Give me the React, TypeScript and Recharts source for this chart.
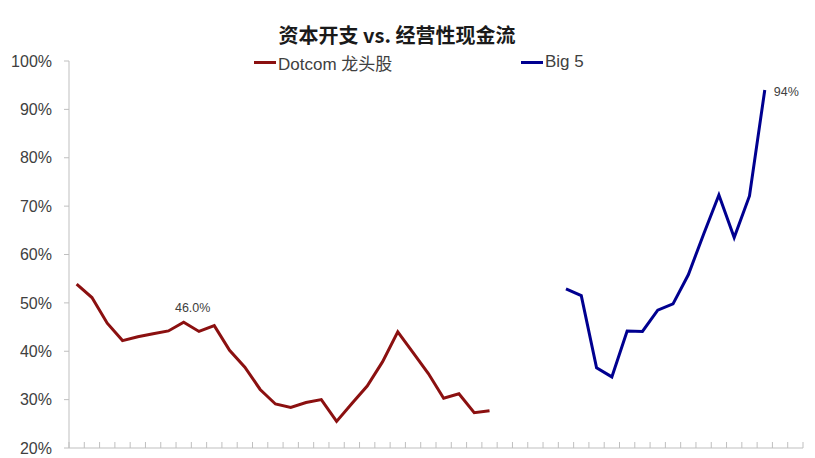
import React from 'react';
import { LineChart, Line, XAxis, YAxis, Legend, LabelList } from 'recharts';

// 48 slots on the x axis, tick marks sit on the slot boundaries
const SLOT_COUNT = 48;

const dotcomName = 'Dotcom 龙头股';
const dotcomStart = 0;
const dotcomValues = [
  53.9, 51.1, 45.8, 42.2, 43.0, 43.6, 44.2, 46.0, 44.1, 45.3, 40.2, 36.7, 32.1, 29.1,
  28.4, 29.4, 30.0, 25.5, 29.2, 32.8, 37.8, 44.0, 39.7, 35.4, 30.3, 31.2, 27.3, 27.7,
];
const dotcomLabelIndex = 7;

const big5Name = 'Big 5';
const big5Start = 32;
const big5Values = [52.9, 51.5, 36.6, 34.7, 44.2, 44.1, 48.5, 49.8, 55.8, 64.2, 72.3, 63.5, 72.1, 94.0];
const big5LabelIndex = 13;

const seriesOrder = [dotcomName, big5Name];
const yTicks = [20, 30, 40, 50, 60, 70, 80, 90, 100];
const xTicks = Array.from({ length: SLOT_COUNT + 1 }, (_, i) => i);

const AXIS = '#bfbfbf';
const TEXT = '#404040';
const FONT = '"Liberation Sans", Arial, "Noto Sans CJK SC", sans-serif';
const RED = '#8b1010';
const NAVY = '#000090';

const toRows = (start: number, values: number[]) =>
  values.map((v, i) => ({ slot: start + i + 0.5, v }));

const dotcomData = toRows(dotcomStart, dotcomValues);
const big5Data = toRows(big5Start, big5Values);

const UpTick = (props: any) => {
  const { x, y } = props;
  return <line x1={x} y1={y} x2={x} y2={y - 6} stroke={AXIS} strokeWidth={1} />;
};

const dotcomLabel = (props: any) => {
  const { x, y, value, index } = props;
  if (index !== dotcomLabelIndex) return null;
  return (
    <text x={x + 9} y={y - 10} textAnchor="middle" fontSize={12.5} fill={TEXT} fontFamily={FONT}>
      {Number(value).toFixed(1)}%
    </text>
  );
};

const big5Label = (props: any) => {
  const { x, y, value, index } = props;
  if (index !== big5LabelIndex) return null;
  return (
    <text x={x + 9} y={y + 6} textAnchor="start" fontSize={12.5} fill={TEXT} fontFamily={FONT}>
      {Math.round(Number(value))}%
    </text>
  );
};

const legendLefts = [254, 521];

const renderLegend = (props: any) => {
  const payload = [...(props.payload || [])].sort(
    (a: any, b: any) => seriesOrder.indexOf(a.value) - seriesOrder.indexOf(b.value)
  );
  return (
    <div style={{ position: 'relative', width: 815, height: 26 }}>
      {payload.map((entry: any, i: number) => (
        <div
          key={entry.value}
          style={{
            position: 'absolute',
            left: legendLefts[i],
            top: 0,
            display: 'flex',
            alignItems: 'center',
            height: 26,
            fontFamily: FONT,
            fontSize: 17,
            color: TEXT,
            whiteSpace: 'nowrap',
          }}
        >
          <span style={{ display: 'inline-block', width: 22, height: 3, background: entry.color, marginRight: 2 }} />
          {entry.value}
        </div>
      ))}
    </div>
  );
};

export default function App() {
  return (
    <div style={{ position: 'absolute', left: 0, top: 0, width: 815, height: 458, background: '#fff' }}>
      <div
        style={{
          position: 'absolute',
          left: 397,
          top: 22,
          transform: 'translateX(-50%)',
          fontFamily: '"Noto Sans CJK SC", sans-serif',
          fontWeight: 700,
          fontSize: 20,
          lineHeight: '26px',
          color: '#1a1a1a',
          whiteSpace: 'nowrap',
          zIndex: 2,
        }}
      >
        资本开支 vs. 经营性现金流
      </div>
      <LineChart width={815} height={458} margin={{ top: 61, right: 12, bottom: 0, left: 0 }}>
        <XAxis
          dataKey="slot"
          type="number"
          domain={[0, SLOT_COUNT]}
          ticks={xTicks}
          interval={0}
          allowDataOverflow
          height={10}
          tickLine={false}
          tickSize={0}
          tickMargin={0}
          tick={<UpTick />}
          axisLine={{ stroke: AXIS }}
        />
        <YAxis
          type="number"
          domain={[20, 100]}
          ticks={yTicks}
          interval={0}
          width={69}
          tickSize={5}
          tickMargin={12}
          tickFormatter={(v: number) => `${v}%`}
          axisLine={{ stroke: AXIS }}
          tickLine={{ stroke: AXIS }}
          tick={{ fontSize: 16, fill: TEXT, fontFamily: FONT }}
        />
        <Legend
          layout="horizontal"
          verticalAlign="middle"
          align="center"
          content={renderLegend}
          wrapperStyle={{ top: 49, left: 0, width: 815, height: 26 }}
        />
        <Line
          data={dotcomData}
          dataKey="v"
          name={dotcomName}
          stroke={RED}
          strokeWidth={3}
          dot={false}
          activeDot={false}
          isAnimationActive={false}
        >
          <LabelList dataKey="v" content={dotcomLabel} />
        </Line>
        <Line
          data={big5Data}
          dataKey="v"
          name={big5Name}
          stroke={NAVY}
          strokeWidth={3}
          dot={false}
          activeDot={false}
          isAnimationActive={false}
        >
          <LabelList dataKey="v" content={big5Label} />
        </Line>
      </LineChart>
    </div>
  );
}
